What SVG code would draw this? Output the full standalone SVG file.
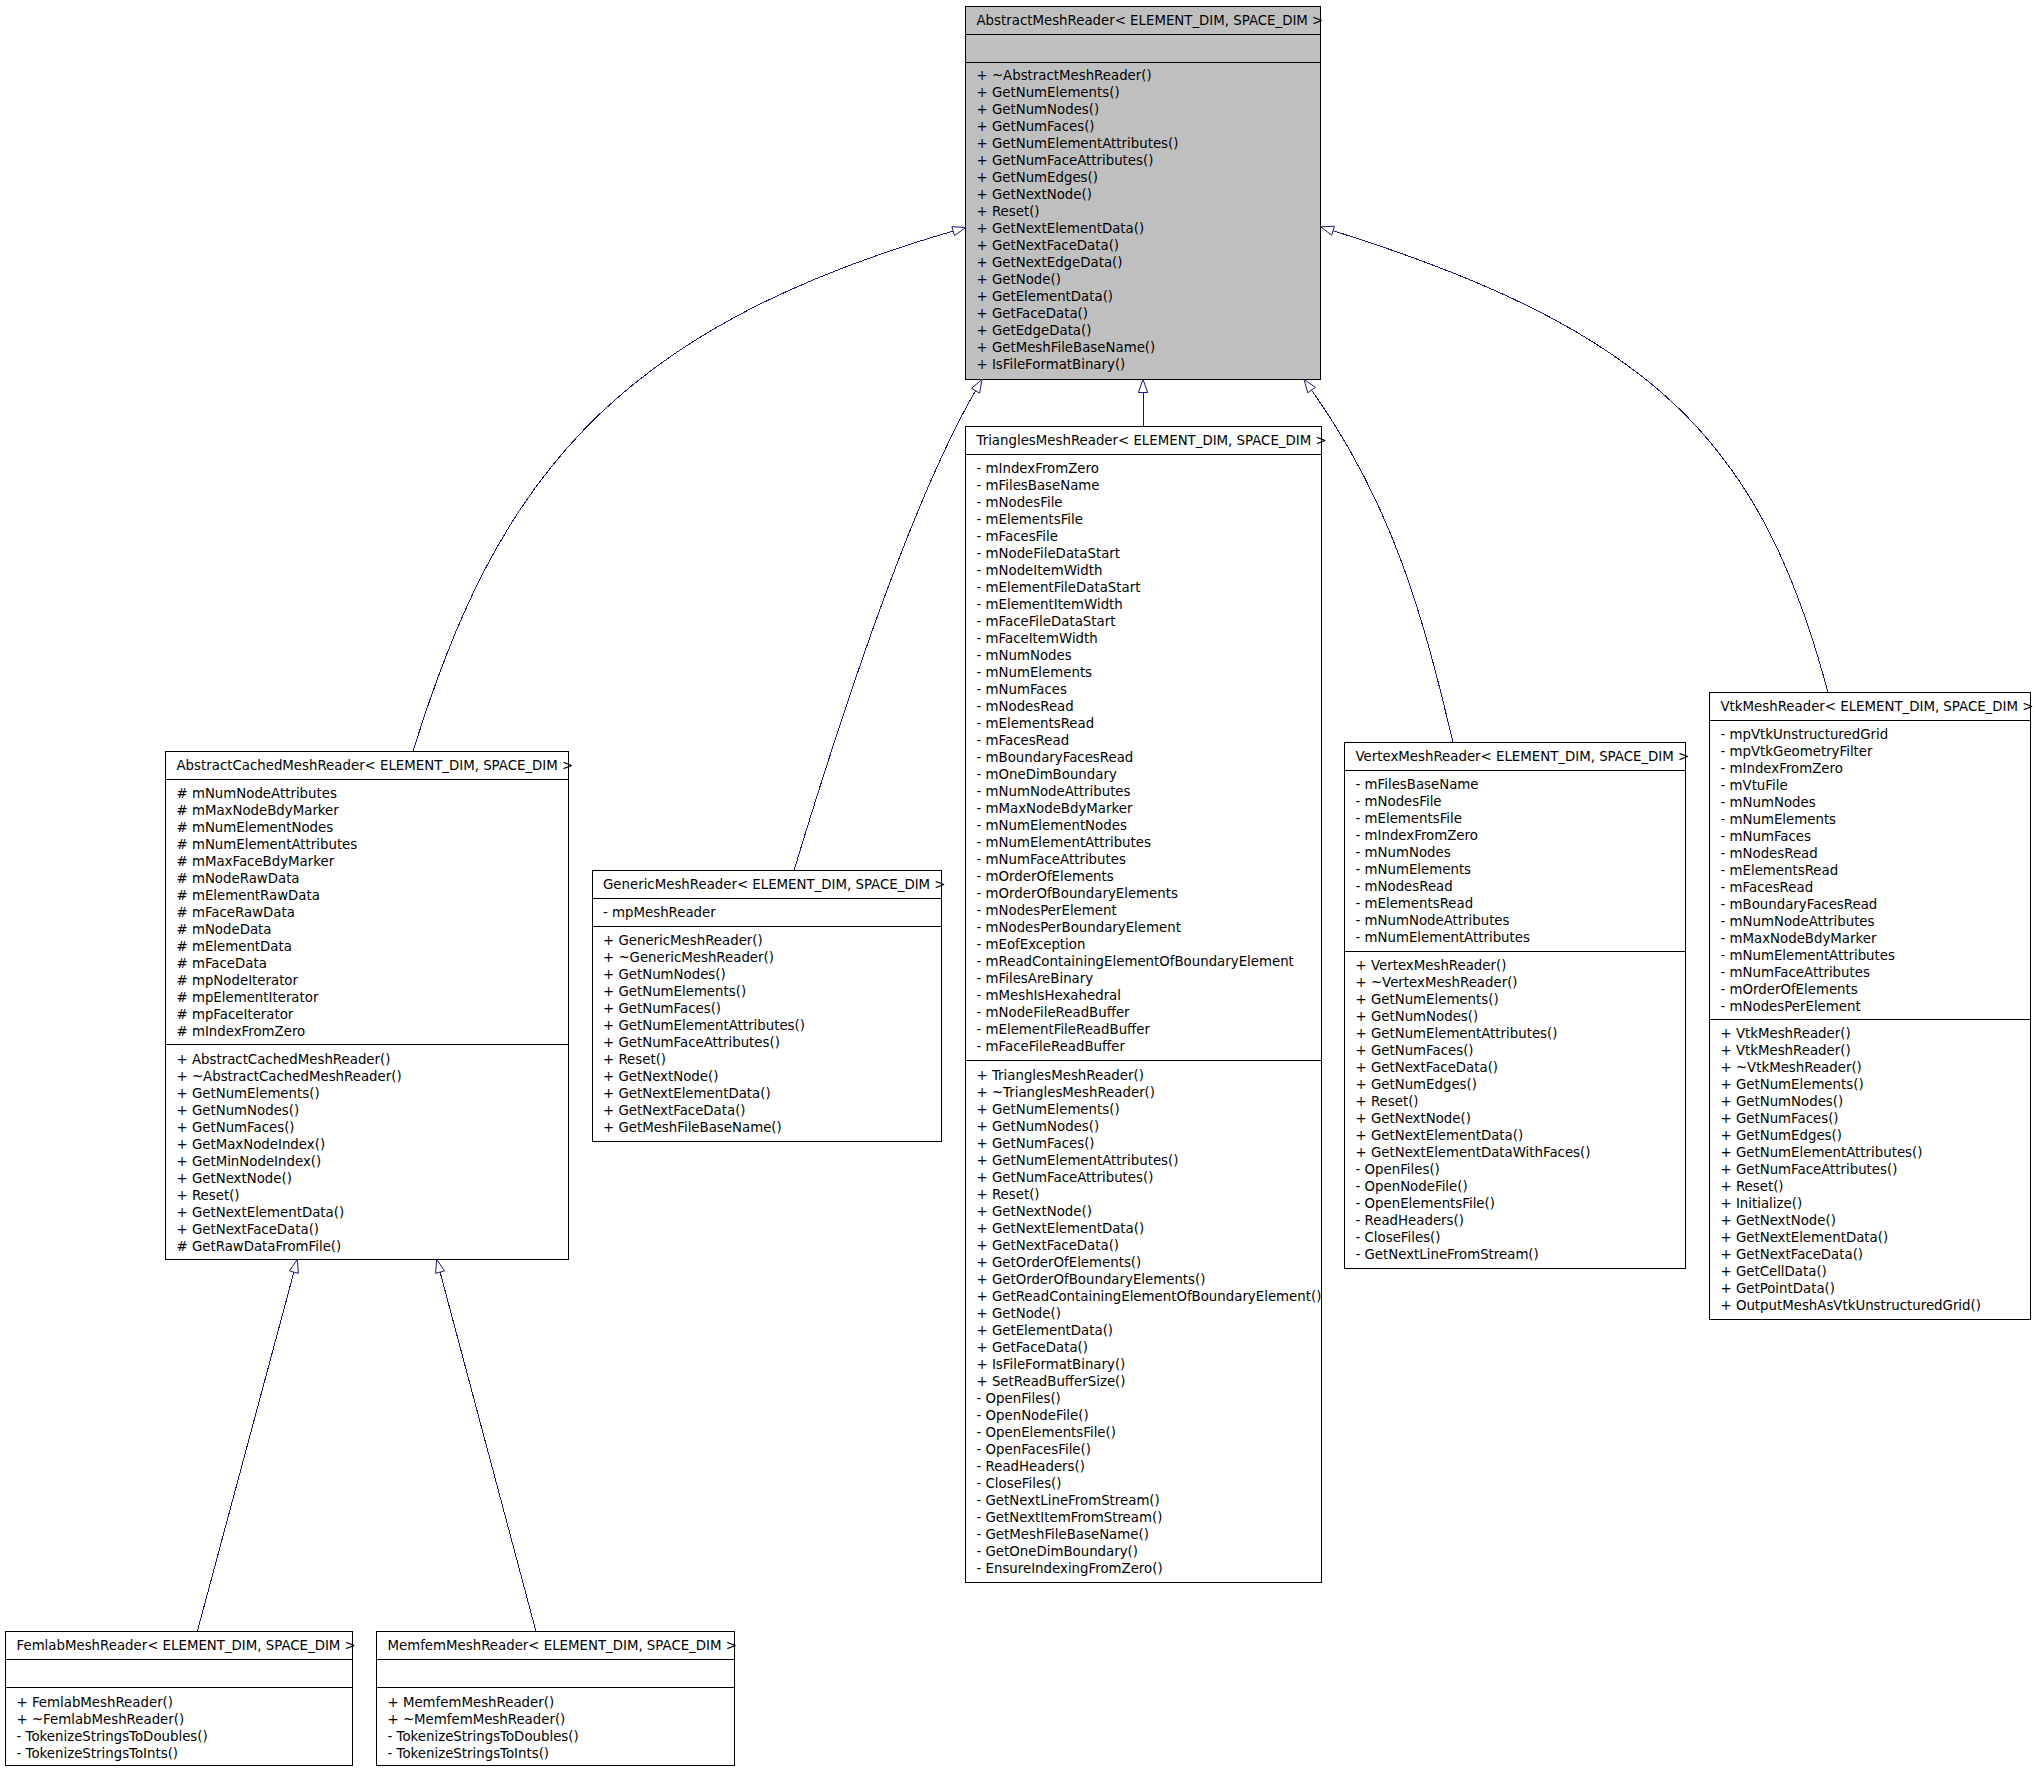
<svg xmlns="http://www.w3.org/2000/svg" width="2035" height="1771" viewBox="0 0 2035 1771">
<style>
.bg{fill:#fff}
.box{fill:#fff;stroke:#000;stroke-width:1}
.root{fill:#bfbfbf;stroke:#000;stroke-width:1}
.sep{stroke:#000;stroke-width:1}
.t{font-family:"DejaVu Sans",Verdana,sans-serif;font-size:13.33px;fill:#000}
.e{fill:none;stroke:#191970;stroke-width:1;shape-rendering:crispEdges}
.ah{fill:#fff;stroke:#191970;stroke-width:1}
</style>
<rect class="bg" x="0" y="0" width="2035" height="1771"/>

<g id="connectors">
<path class="e" d="M413,751.5 C495,486 608,331 953.2,231.1"/>
<polygon class="ah" points="954.5,235.6 965.7,227.5 951.9,226.6"/>
<path class="e" d="M794,870.5 C831.7,746.2 905,512.4 975.5,390.8"/>
<polygon class="ah" points="979.6,393.1 982,379.5 971.4,388.4"/>
<path class="e" d="M1143,426.5 L1143,392.5"/>
<polygon class="ah" points="1147.7,392.5 1143,379.5 1138.3,392.5"/>
<path class="e" d="M1453,742.5 C1423,616 1393.2,505.4 1311.6,390.1"/>
<polygon class="ah" points="1315.4,387.4 1304,379.5 1307.8,392.8"/>
<path class="e" d="M1828,692.5 C1760.9,440.8 1652.3,331.1 1333.1,230.7"/>
<polygon class="ah" points="1334.5,226.2 1320.7,226.8 1331.7,235.2"/>
<path class="e" d="M197.3,1631.5 L293.9,1272.1"/>
<polygon class="ah" points="298.4,1273.3 297.3,1259.5 289.4,1270.9"/>
<path class="e" d="M536,1631.5 L440.1,1272.1"/>
<polygon class="ah" points="444.6,1270.9 436.7,1259.5 435.6,1273.3"/>
</g>

<g id="AbstractMeshReader">
<rect class="root" x="965.5" y="6.5" width="355" height="373"/>
<line class="sep" x1="965.5" y1="34.5" x2="1320.5" y2="34.5"/>
<line class="sep" x1="965.5" y1="62.5" x2="1320.5" y2="62.5"/>
<text class="t" x="976.5" y="24.5">AbstractMeshReader&lt; ELEMENT_DIM, SPACE_DIM &gt;</text>
<text class="t" x="976.5" y="80"><tspan x="976.5" dy="0">+ ~AbstractMeshReader()</tspan><tspan x="976.5" dy="17">+ GetNumElements()</tspan><tspan x="976.5" dy="17">+ GetNumNodes()</tspan><tspan x="976.5" dy="17">+ GetNumFaces()</tspan><tspan x="976.5" dy="17">+ GetNumElementAttributes()</tspan><tspan x="976.5" dy="17">+ GetNumFaceAttributes()</tspan><tspan x="976.5" dy="17">+ GetNumEdges()</tspan><tspan x="976.5" dy="17">+ GetNextNode()</tspan><tspan x="976.5" dy="17">+ Reset()</tspan><tspan x="976.5" dy="17">+ GetNextElementData()</tspan><tspan x="976.5" dy="17">+ GetNextFaceData()</tspan><tspan x="976.5" dy="17">+ GetNextEdgeData()</tspan><tspan x="976.5" dy="17">+ GetNode()</tspan><tspan x="976.5" dy="17">+ GetElementData()</tspan><tspan x="976.5" dy="17">+ GetFaceData()</tspan><tspan x="976.5" dy="17">+ GetEdgeData()</tspan><tspan x="976.5" dy="17">+ GetMeshFileBaseName()</tspan><tspan x="976.5" dy="17">+ IsFileFormatBinary()</tspan></text>
</g>

<g id="AbstractCachedMeshReader">
<rect class="box" x="165.5" y="751.5" width="403" height="508"/>
<line class="sep" x1="165.5" y1="779.5" x2="568.5" y2="779.5"/>
<line class="sep" x1="165.5" y1="1044.5" x2="568.5" y2="1044.5"/>
<text class="t" x="176.5" y="769.5">AbstractCachedMeshReader&lt; ELEMENT_DIM, SPACE_DIM &gt;</text>
<text class="t" x="176.5" y="798"><tspan x="176.5" dy="0"># mNumNodeAttributes</tspan><tspan x="176.5" dy="17"># mMaxNodeBdyMarker</tspan><tspan x="176.5" dy="17"># mNumElementNodes</tspan><tspan x="176.5" dy="17"># mNumElementAttributes</tspan><tspan x="176.5" dy="17"># mMaxFaceBdyMarker</tspan><tspan x="176.5" dy="17"># mNodeRawData</tspan><tspan x="176.5" dy="17"># mElementRawData</tspan><tspan x="176.5" dy="17"># mFaceRawData</tspan><tspan x="176.5" dy="17"># mNodeData</tspan><tspan x="176.5" dy="17"># mElementData</tspan><tspan x="176.5" dy="17"># mFaceData</tspan><tspan x="176.5" dy="17"># mpNodeIterator</tspan><tspan x="176.5" dy="17"># mpElementIterator</tspan><tspan x="176.5" dy="17"># mpFaceIterator</tspan><tspan x="176.5" dy="17"># mIndexFromZero</tspan></text>
<text class="t" x="176.5" y="1063.5"><tspan x="176.5" dy="0">+ AbstractCachedMeshReader()</tspan><tspan x="176.5" dy="17">+ ~AbstractCachedMeshReader()</tspan><tspan x="176.5" dy="17">+ GetNumElements()</tspan><tspan x="176.5" dy="17">+ GetNumNodes()</tspan><tspan x="176.5" dy="17">+ GetNumFaces()</tspan><tspan x="176.5" dy="17">+ GetMaxNodeIndex()</tspan><tspan x="176.5" dy="17">+ GetMinNodeIndex()</tspan><tspan x="176.5" dy="17">+ GetNextNode()</tspan><tspan x="176.5" dy="17">+ Reset()</tspan><tspan x="176.5" dy="17">+ GetNextElementData()</tspan><tspan x="176.5" dy="17">+ GetNextFaceData()</tspan><tspan x="176.5" dy="17"># GetRawDataFromFile()</tspan></text>
</g>

<g id="GenericMeshReader">
<rect class="box" x="592.5" y="870.5" width="349" height="271"/>
<line class="sep" x1="592.5" y1="898.5" x2="941.5" y2="898.5"/>
<line class="sep" x1="592.5" y1="926.5" x2="941.5" y2="926.5"/>
<text class="t" x="603" y="888.5">GenericMeshReader&lt; ELEMENT_DIM, SPACE_DIM &gt;</text>
<text class="t" x="603" y="917">- mpMeshReader</text>
<text class="t" x="603" y="945"><tspan x="603" dy="0">+ GenericMeshReader()</tspan><tspan x="603" dy="17">+ ~GenericMeshReader()</tspan><tspan x="603" dy="17">+ GetNumNodes()</tspan><tspan x="603" dy="17">+ GetNumElements()</tspan><tspan x="603" dy="17">+ GetNumFaces()</tspan><tspan x="603" dy="17">+ GetNumElementAttributes()</tspan><tspan x="603" dy="17">+ GetNumFaceAttributes()</tspan><tspan x="603" dy="17">+ Reset()</tspan><tspan x="603" dy="17">+ GetNextNode()</tspan><tspan x="603" dy="17">+ GetNextElementData()</tspan><tspan x="603" dy="17">+ GetNextFaceData()</tspan><tspan x="603" dy="17">+ GetMeshFileBaseName()</tspan></text>
</g>

<g id="TrianglesMeshReader">
<rect class="box" x="965.5" y="426.5" width="356" height="1156"/>
<line class="sep" x1="965.5" y1="454.5" x2="1321.5" y2="454.5"/>
<line class="sep" x1="965.5" y1="1060.5" x2="1321.5" y2="1060.5"/>
<text class="t" x="976.5" y="444.5">TrianglesMeshReader&lt; ELEMENT_DIM, SPACE_DIM &gt;</text>
<text class="t" x="976.5" y="473"><tspan x="976.5" dy="0">- mIndexFromZero</tspan><tspan x="976.5" dy="17">- mFilesBaseName</tspan><tspan x="976.5" dy="17">- mNodesFile</tspan><tspan x="976.5" dy="17">- mElementsFile</tspan><tspan x="976.5" dy="17">- mFacesFile</tspan><tspan x="976.5" dy="17">- mNodeFileDataStart</tspan><tspan x="976.5" dy="17">- mNodeItemWidth</tspan><tspan x="976.5" dy="17">- mElementFileDataStart</tspan><tspan x="976.5" dy="17">- mElementItemWidth</tspan><tspan x="976.5" dy="17">- mFaceFileDataStart</tspan><tspan x="976.5" dy="17">- mFaceItemWidth</tspan><tspan x="976.5" dy="17">- mNumNodes</tspan><tspan x="976.5" dy="17">- mNumElements</tspan><tspan x="976.5" dy="17">- mNumFaces</tspan><tspan x="976.5" dy="17">- mNodesRead</tspan><tspan x="976.5" dy="17">- mElementsRead</tspan><tspan x="976.5" dy="17">- mFacesRead</tspan><tspan x="976.5" dy="17">- mBoundaryFacesRead</tspan><tspan x="976.5" dy="17">- mOneDimBoundary</tspan><tspan x="976.5" dy="17">- mNumNodeAttributes</tspan><tspan x="976.5" dy="17">- mMaxNodeBdyMarker</tspan><tspan x="976.5" dy="17">- mNumElementNodes</tspan><tspan x="976.5" dy="17">- mNumElementAttributes</tspan><tspan x="976.5" dy="17">- mNumFaceAttributes</tspan><tspan x="976.5" dy="17">- mOrderOfElements</tspan><tspan x="976.5" dy="17">- mOrderOfBoundaryElements</tspan><tspan x="976.5" dy="17">- mNodesPerElement</tspan><tspan x="976.5" dy="17">- mNodesPerBoundaryElement</tspan><tspan x="976.5" dy="17">- mEofException</tspan><tspan x="976.5" dy="17">- mReadContainingElementOfBoundaryElement</tspan><tspan x="976.5" dy="17">- mFilesAreBinary</tspan><tspan x="976.5" dy="17">- mMeshIsHexahedral</tspan><tspan x="976.5" dy="17">- mNodeFileReadBuffer</tspan><tspan x="976.5" dy="17">- mElementFileReadBuffer</tspan><tspan x="976.5" dy="17">- mFaceFileReadBuffer</tspan></text>
<text class="t" x="976.5" y="1079.5"><tspan x="976.5" dy="0">+ TrianglesMeshReader()</tspan><tspan x="976.5" dy="17">+ ~TrianglesMeshReader()</tspan><tspan x="976.5" dy="17">+ GetNumElements()</tspan><tspan x="976.5" dy="17">+ GetNumNodes()</tspan><tspan x="976.5" dy="17">+ GetNumFaces()</tspan><tspan x="976.5" dy="17">+ GetNumElementAttributes()</tspan><tspan x="976.5" dy="17">+ GetNumFaceAttributes()</tspan><tspan x="976.5" dy="17">+ Reset()</tspan><tspan x="976.5" dy="17">+ GetNextNode()</tspan><tspan x="976.5" dy="17">+ GetNextElementData()</tspan><tspan x="976.5" dy="17">+ GetNextFaceData()</tspan><tspan x="976.5" dy="17">+ GetOrderOfElements()</tspan><tspan x="976.5" dy="17">+ GetOrderOfBoundaryElements()</tspan><tspan x="976.5" dy="17">+ GetReadContainingElementOfBoundaryElement()</tspan><tspan x="976.5" dy="17">+ GetNode()</tspan><tspan x="976.5" dy="17">+ GetElementData()</tspan><tspan x="976.5" dy="17">+ GetFaceData()</tspan><tspan x="976.5" dy="17">+ IsFileFormatBinary()</tspan><tspan x="976.5" dy="17">+ SetReadBufferSize()</tspan><tspan x="976.5" dy="17">- OpenFiles()</tspan><tspan x="976.5" dy="17">- OpenNodeFile()</tspan><tspan x="976.5" dy="17">- OpenElementsFile()</tspan><tspan x="976.5" dy="17">- OpenFacesFile()</tspan><tspan x="976.5" dy="17">- ReadHeaders()</tspan><tspan x="976.5" dy="17">- CloseFiles()</tspan><tspan x="976.5" dy="17">- GetNextLineFromStream()</tspan><tspan x="976.5" dy="17">- GetNextItemFromStream()</tspan><tspan x="976.5" dy="17">- GetMeshFileBaseName()</tspan><tspan x="976.5" dy="17">- GetOneDimBoundary()</tspan><tspan x="976.5" dy="17">- EnsureIndexingFromZero()</tspan></text>
</g>

<g id="VertexMeshReader">
<rect class="box" x="1344.5" y="742.5" width="341" height="526"/>
<line class="sep" x1="1344.5" y1="770.5" x2="1685.5" y2="770.5"/>
<line class="sep" x1="1344.5" y1="951.5" x2="1685.5" y2="951.5"/>
<text class="t" x="1355.5" y="760.5">VertexMeshReader&lt; ELEMENT_DIM, SPACE_DIM &gt;</text>
<text class="t" x="1355.5" y="789"><tspan x="1355.5" dy="0">- mFilesBaseName</tspan><tspan x="1355.5" dy="17">- mNodesFile</tspan><tspan x="1355.5" dy="17">- mElementsFile</tspan><tspan x="1355.5" dy="17">- mIndexFromZero</tspan><tspan x="1355.5" dy="17">- mNumNodes</tspan><tspan x="1355.5" dy="17">- mNumElements</tspan><tspan x="1355.5" dy="17">- mNodesRead</tspan><tspan x="1355.5" dy="17">- mElementsRead</tspan><tspan x="1355.5" dy="17">- mNumNodeAttributes</tspan><tspan x="1355.5" dy="17">- mNumElementAttributes</tspan></text>
<text class="t" x="1355.5" y="970"><tspan x="1355.5" dy="0">+ VertexMeshReader()</tspan><tspan x="1355.5" dy="17">+ ~VertexMeshReader()</tspan><tspan x="1355.5" dy="17">+ GetNumElements()</tspan><tspan x="1355.5" dy="17">+ GetNumNodes()</tspan><tspan x="1355.5" dy="17">+ GetNumElementAttributes()</tspan><tspan x="1355.5" dy="17">+ GetNumFaces()</tspan><tspan x="1355.5" dy="17">+ GetNextFaceData()</tspan><tspan x="1355.5" dy="17">+ GetNumEdges()</tspan><tspan x="1355.5" dy="17">+ Reset()</tspan><tspan x="1355.5" dy="17">+ GetNextNode()</tspan><tspan x="1355.5" dy="17">+ GetNextElementData()</tspan><tspan x="1355.5" dy="17">+ GetNextElementDataWithFaces()</tspan><tspan x="1355.5" dy="17">- OpenFiles()</tspan><tspan x="1355.5" dy="17">- OpenNodeFile()</tspan><tspan x="1355.5" dy="17">- OpenElementsFile()</tspan><tspan x="1355.5" dy="17">- ReadHeaders()</tspan><tspan x="1355.5" dy="17">- CloseFiles()</tspan><tspan x="1355.5" dy="17">- GetNextLineFromStream()</tspan></text>
</g>

<g id="VtkMeshReader">
<rect class="box" x="1709.5" y="692.5" width="321" height="627"/>
<line class="sep" x1="1709.5" y1="720.5" x2="2030.5" y2="720.5"/>
<line class="sep" x1="1709.5" y1="1019.5" x2="2030.5" y2="1019.5"/>
<text class="t" x="1720.5" y="710.5">VtkMeshReader&lt; ELEMENT_DIM, SPACE_DIM &gt;</text>
<text class="t" x="1720.5" y="738.5"><tspan x="1720.5" dy="0">- mpVtkUnstructuredGrid</tspan><tspan x="1720.5" dy="17">- mpVtkGeometryFilter</tspan><tspan x="1720.5" dy="17">- mIndexFromZero</tspan><tspan x="1720.5" dy="17">- mVtuFile</tspan><tspan x="1720.5" dy="17">- mNumNodes</tspan><tspan x="1720.5" dy="17">- mNumElements</tspan><tspan x="1720.5" dy="17">- mNumFaces</tspan><tspan x="1720.5" dy="17">- mNodesRead</tspan><tspan x="1720.5" dy="17">- mElementsRead</tspan><tspan x="1720.5" dy="17">- mFacesRead</tspan><tspan x="1720.5" dy="17">- mBoundaryFacesRead</tspan><tspan x="1720.5" dy="17">- mNumNodeAttributes</tspan><tspan x="1720.5" dy="17">- mMaxNodeBdyMarker</tspan><tspan x="1720.5" dy="17">- mNumElementAttributes</tspan><tspan x="1720.5" dy="17">- mNumFaceAttributes</tspan><tspan x="1720.5" dy="17">- mOrderOfElements</tspan><tspan x="1720.5" dy="17">- mNodesPerElement</tspan></text>
<text class="t" x="1720.5" y="1038"><tspan x="1720.5" dy="0">+ VtkMeshReader()</tspan><tspan x="1720.5" dy="17">+ VtkMeshReader()</tspan><tspan x="1720.5" dy="17">+ ~VtkMeshReader()</tspan><tspan x="1720.5" dy="17">+ GetNumElements()</tspan><tspan x="1720.5" dy="17">+ GetNumNodes()</tspan><tspan x="1720.5" dy="17">+ GetNumFaces()</tspan><tspan x="1720.5" dy="17">+ GetNumEdges()</tspan><tspan x="1720.5" dy="17">+ GetNumElementAttributes()</tspan><tspan x="1720.5" dy="17">+ GetNumFaceAttributes()</tspan><tspan x="1720.5" dy="17">+ Reset()</tspan><tspan x="1720.5" dy="17">+ Initialize()</tspan><tspan x="1720.5" dy="17">+ GetNextNode()</tspan><tspan x="1720.5" dy="17">+ GetNextElementData()</tspan><tspan x="1720.5" dy="17">+ GetNextFaceData()</tspan><tspan x="1720.5" dy="17">+ GetCellData()</tspan><tspan x="1720.5" dy="17">+ GetPointData()</tspan><tspan x="1720.5" dy="17">+ OutputMeshAsVtkUnstructuredGrid()</tspan></text>
</g>

<g id="FemlabMeshReader">
<rect class="box" x="5.5" y="1631.5" width="347" height="134"/>
<line class="sep" x1="5.5" y1="1659.5" x2="352.5" y2="1659.5"/>
<line class="sep" x1="5.5" y1="1687.5" x2="352.5" y2="1687.5"/>
<text class="t" x="16.5" y="1649.5">FemlabMeshReader&lt; ELEMENT_DIM, SPACE_DIM &gt;</text>
<text class="t" x="16.5" y="1706.5"><tspan x="16.5" dy="0">+ FemlabMeshReader()</tspan><tspan x="16.5" dy="17">+ ~FemlabMeshReader()</tspan><tspan x="16.5" dy="17">- TokenizeStringsToDoubles()</tspan><tspan x="16.5" dy="17">- TokenizeStringsToInts()</tspan></text>
</g>

<g id="MemfemMeshReader">
<rect class="box" x="376.5" y="1631.5" width="358" height="134"/>
<line class="sep" x1="376.5" y1="1659.5" x2="734.5" y2="1659.5"/>
<line class="sep" x1="376.5" y1="1687.5" x2="734.5" y2="1687.5"/>
<text class="t" x="387.5" y="1649.5">MemfemMeshReader&lt; ELEMENT_DIM, SPACE_DIM &gt;</text>
<text class="t" x="387.5" y="1706.5"><tspan x="387.5" dy="0">+ MemfemMeshReader()</tspan><tspan x="387.5" dy="17">+ ~MemfemMeshReader()</tspan><tspan x="387.5" dy="17">- TokenizeStringsToDoubles()</tspan><tspan x="387.5" dy="17">- TokenizeStringsToInts()</tspan></text>
</g>
</svg>
